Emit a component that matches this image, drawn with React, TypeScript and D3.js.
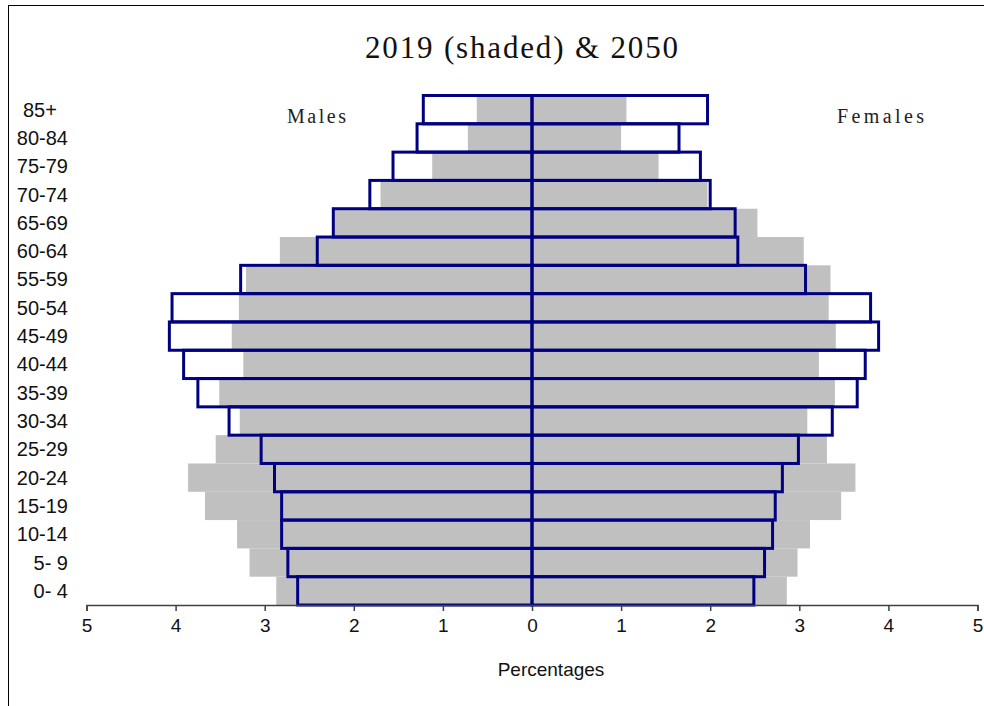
import React, { useEffect, useRef } from 'react';
import * as d3 from 'd3';

// age groups, youngest first
const ageGroups = ['0- 4', '5- 9', '10-14', '15-19', '20-24', '25-29', '30-34', '35-39', '40-44',
  '45-49', '50-54', '55-59', '60-64', '65-69', '70-74', '75-79', '80-84', '85+'];

const males2019 = [2.87, 3.17, 3.31, 3.67, 3.86, 3.55, 3.28, 3.51, 3.24, 3.37, 3.29, 3.21, 2.83, 2.22, 1.70, 1.12, 0.72, 0.62];
const females2019 = [2.86, 2.98, 3.12, 3.47, 3.63, 3.31, 3.09, 3.40, 3.22, 3.41, 3.33, 3.35, 3.05, 2.53, 1.97, 1.42, 1.00, 1.06];
const males2050 = [2.63, 2.74, 2.81, 2.81, 2.89, 3.04, 3.40, 3.75, 3.91, 4.07, 4.04, 3.27, 2.41, 2.23, 1.82, 1.56, 1.29, 1.22];
const females2050 = [2.49, 2.61, 2.70, 2.73, 2.81, 2.99, 3.37, 3.65, 3.74, 3.89, 3.80, 3.07, 2.31, 2.28, 2.00, 1.89, 1.65, 1.97];

const xTicks = [-5, -4, -3, -2, -1, 0, 1, 2, 3, 4, 5];

const W = 984;
const H = 706;

const App = () => {
  const svgRef = useRef<SVGSVGElement>(null);

  useEffect(() => {
    if (!svgRef.current) return;
    const svg = d3.select(svgRef.current);
    svg.selectAll('*').remove();

    const x = d3.scaleLinear().domain([-5, 5]).range([86.5, 977.5]);
    const y = d3.scaleBand<string>()
      .domain([...ageGroups].reverse())
      .range([95.5, 605])
      .padding(0);

    // frame
    svg.append('rect')
      .attr('x', 8.5).attr('y', 5.5)
      .attr('width', 1200).attr('height', 1200)
      .attr('fill', 'none').attr('stroke', '#000').attr('stroke-width', 1);

    svg.append('text')
      .attr('x', 521.5).attr('y', 58)
      .attr('text-anchor', 'middle')
      .attr('textLength', 313).attr('lengthAdjust', 'spacing')
      .style('font-family', '"Liberation Serif", "DejaVu Serif", serif')
      .style('font-size', '31px')
      .attr('fill', '#111')
      .text('2019 (shaded) & 2050');

    svg.append('text')
      .attr('x', 287).attr('y', 123)
      .attr('textLength', 59).attr('lengthAdjust', 'spacing')
      .style('font-family', '"Liberation Serif", serif')
      .style('font-size', '20px')
      .attr('fill', '#222')
      .text('Males');

    svg.append('text')
      .attr('x', 837).attr('y', 123)
      .attr('textLength', 87).attr('lengthAdjust', 'spacing')
      .style('font-family', '"Liberation Serif", serif')
      .style('font-size', '20px')
      .attr('fill', '#222')
      .text('Females');

    const g = svg.append('g');

    // 2019 shaded bars
    ageGroups.forEach((age, i) => {
      g.append('rect')
        .attr('x', x(-males2019[i]))
        .attr('y', y(age)!)
        .attr('width', x(0) - x(-males2019[i]))
        .attr('height', y.bandwidth())
        .attr('fill', '#c0c0c0');
      g.append('rect')
        .attr('x', x(0))
        .attr('y', y(age)!)
        .attr('width', x(females2019[i]) - x(0))
        .attr('height', y.bandwidth())
        .attr('fill', '#c0c0c0');
    });

    // 2050 outlined bars
    ageGroups.forEach((age, i) => {
      g.append('rect')
        .attr('x', x(-males2050[i]))
        .attr('y', y(age)!)
        .attr('width', x(0) - x(-males2050[i]))
        .attr('height', y.bandwidth())
        .attr('fill', 'none')
        .attr('stroke', '#000080')
        .attr('stroke-width', 3);
      g.append('rect')
        .attr('x', x(0))
        .attr('y', y(age)!)
        .attr('width', x(females2050[i]) - x(0))
        .attr('height', y.bandwidth())
        .attr('fill', 'none')
        .attr('stroke', '#000080')
        .attr('stroke-width', 3);
    });

    // age labels
    ageGroups.forEach((age) => {
      svg.append('text')
        .attr('x', 68)
        .attr('y', y(age)! + y.bandwidth() / 2)
        .attr('dy', '0.35em')
        .attr('text-anchor', 'end')
        .style('white-space', 'pre')
        .style('font-family', '"Liberation Sans", Arial, sans-serif')
        .style('font-size', '20px')
        .attr('fill', '#111')
        .text(age === '85+' ? '85+  ' : age);
    });

    // x axis
    const axis = d3.axisBottom(x)
      .tickValues(xTicks)
      .tickSize(6)
      .tickPadding(8)
      .tickFormat((d) => String(Math.abs(d as number)));

    const ax = svg.append('g')
      .attr('transform', 'translate(0,605)')
      .call(axis);
    ax.select('.domain').attr('stroke', '#404040').attr('stroke-width', 1.5);
    ax.selectAll('.tick line').attr('stroke', '#404040').attr('stroke-width', 1.5);
    ax.selectAll('.tick text')
      .style('font-family', '"Liberation Sans", Arial, sans-serif')
      .style('font-size', '19px')
      .attr('fill', '#111');

    svg.append('text')
      .attr('x', 551).attr('y', 676)
      .attr('text-anchor', 'middle')
      .style('font-family', '"Liberation Sans", Arial, sans-serif')
      .style('font-size', '19px')
      .attr('fill', '#111')
      .text('Percentages');
  }, []);

  return (
    <div style={{ position: 'absolute', left: 0, top: 0 }}>
      <svg ref={svgRef} width={W} height={H} style={{ display: 'block', background: '#fff' }} />
    </div>
  );
};

export default App;
